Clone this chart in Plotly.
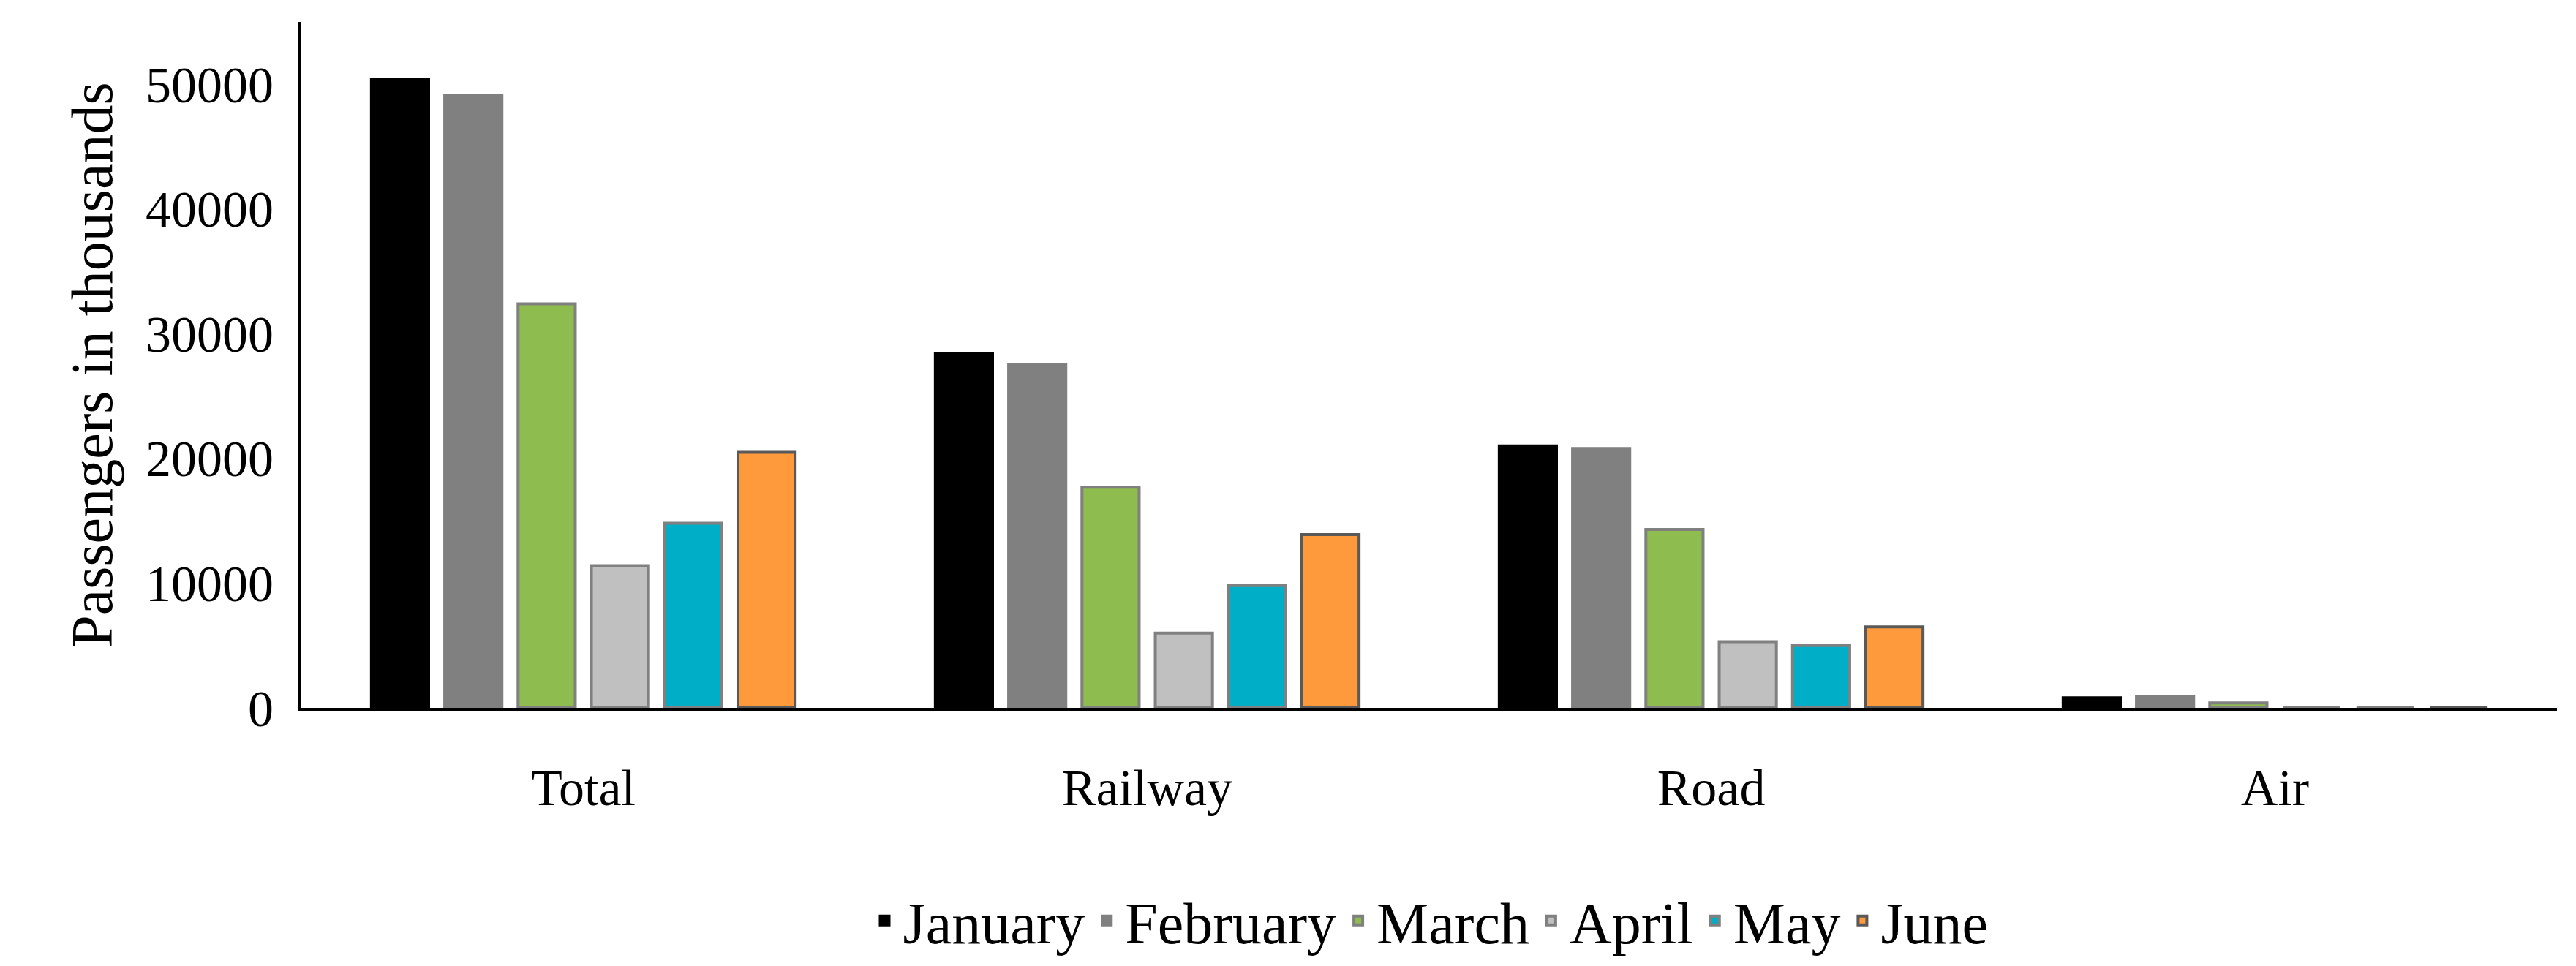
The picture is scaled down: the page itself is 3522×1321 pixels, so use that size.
import plotly.graph_objects as go

categories = ["Total", "Railway", "Road", "Air"]
months = ["January", "February", "March", "April", "May", "June"]
values = {
    "January": [50400, 28400, 21000, 800],
    "February": [49100, 27500, 20800, 900],
    "March": [32400, 17700, 14300, 400],
    "April": [11400, 6000, 5300, 0],
    "May": [14800, 9800, 5000, 0],
    "June": [20500, 13900, 6500, 0],
}
colors = ["#000000", "#808080", "#8FBC4F", "#C0C0C0", "#00AEC7", "#FF9A3C"]
lines = ["#000000", "#808080", "#808080", "#808080", "#808080", "#595959"]

fig = go.Figure()
for m, c, lc in zip(months, colors, lines):
    fig.add_trace(go.Bar(name=m, x=categories, y=values[m], marker_color=c,
                         marker_line=dict(color=lc, width=4)))

font = "Liberation Serif"
fig.update_layout(
    width=3522, height=1321, barmode="group", bargap=0.22, bargroupgap=0.22,
    plot_bgcolor="white", paper_bgcolor="white",
    margin=dict(l=404, r=34, t=22, b=353),
    font=dict(family=font, size=70, color="black"),
    legend=dict(orientation="h", x=0.5, xanchor="center", y=-0.31, yanchor="middle",
                font=dict(size=80), itemwidth=40),
    xaxis=dict(showline=True, linecolor="black", linewidth=4, ticks="",
               tickfont=dict(size=70), ticklabelstandoff=45),
    yaxis=dict(range=[0, 55000], showline=True, linecolor="black", linewidth=4,
               showgrid=False, ticks="", dtick=10000, tickformat="d",
               tickfont=dict(size=70), ticklabelstandoff=20,
               title=dict(text="Passengers in thousands", font=dict(size=80), standoff=20),
               zeroline=False),
)
fig.write_html("out.html")
